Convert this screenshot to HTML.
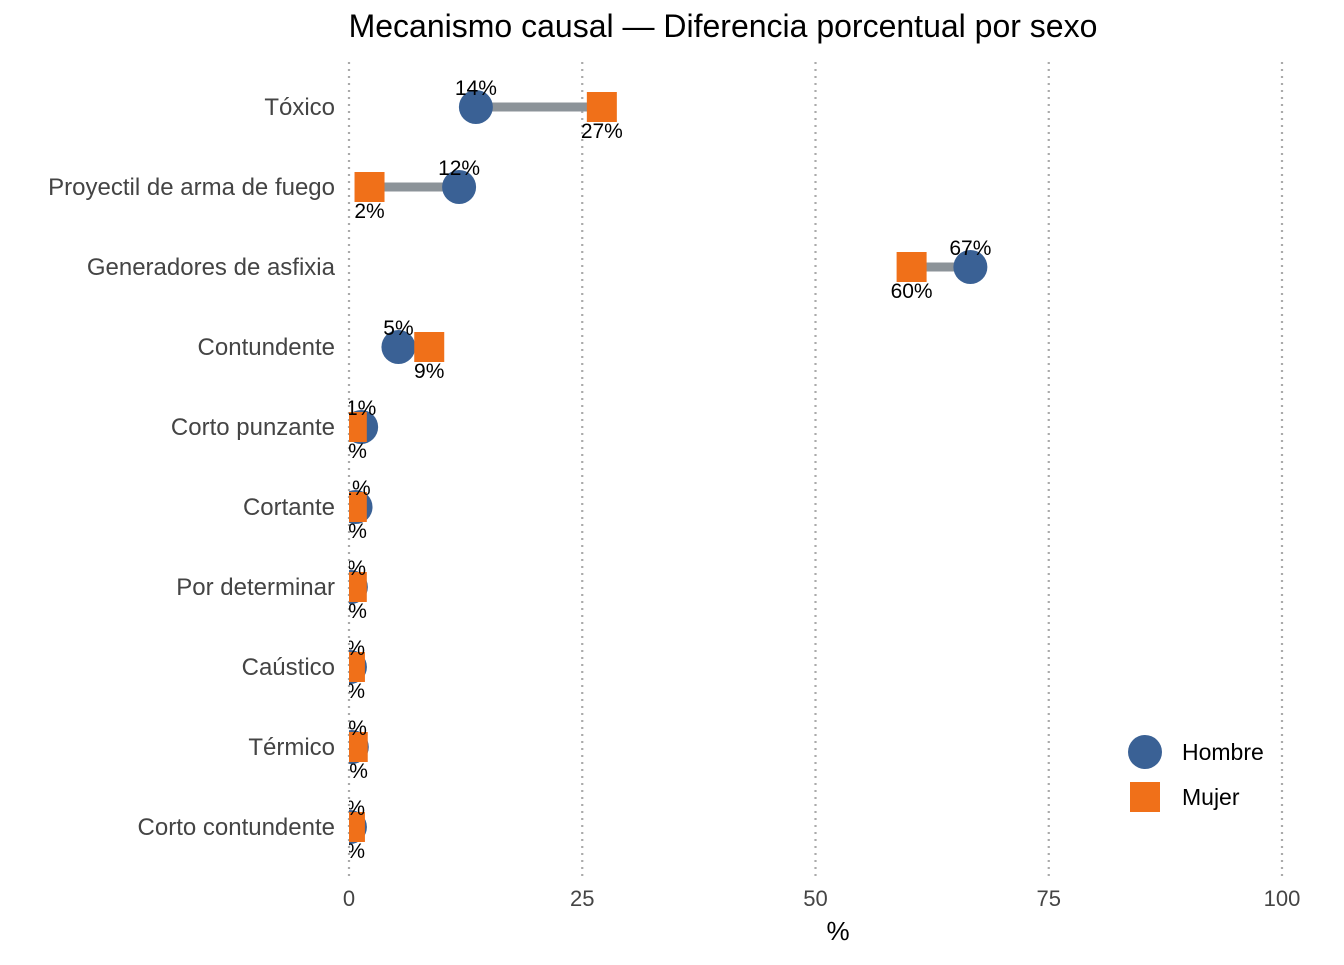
<!DOCTYPE html>
<html><head><meta charset="utf-8"><style>
body{margin:0;background:#fff;}
svg{font-family:"Liberation Sans",Arial,sans-serif;}
</style></head><body>
<svg id="c" width="1344" height="960">
<defs><clipPath id="clip"><rect x="349" y="55" width="980" height="830"/></clipPath></defs>
<text x="723" y="37" text-anchor="middle" font-size="32" fill="#000">Mecanismo causal — Diferencia porcentual por sexo</text>
<g id="grid"></g>
<g id="ylab"></g>
<g id="xt"></g>
<g id="marks" clip-path="url(#clip)"></g>
<text x="838" y="940" text-anchor="middle" font-size="26">%</text>
<g>
<circle cx="1145" cy="752" r="17" fill="#3a6195"/>
<text x="1182" y="760" font-size="23">Hombre</text>
<rect x="1130" y="782" width="30" height="30" fill="#f07019"/>
<text x="1182" y="805" font-size="23">Mujer</text>
</g>
</svg>
<script>
const categories=["Tóxico","Proyectil de arma de fuego","Generadores de asfixia","Contundente","Corto punzante","Cortante","Por determinar","Caústico","Térmico","Corto contundente"];
const hombre=[13.6,11.8,66.6,5.3,1.3,0.7,0.2,0.1,0.3,0.1];
const mujer=[27.1,2.2,60.3,8.6,0.3,0.3,0.3,0.1,0.4,0.1];
const hombreLbl=["14%","12%","67%","5%","1%","1%","0%","0%","0%","0%"];
const mujerLbl=["27%","2%","60%","9%","0%","0%","0%","0%","0%","0%"];
const xticks=[0,25,50,75,100];
const NS="http://www.w3.org/2000/svg";
const X=v=>349+v*9.33;
const Y=i=>107+i*80;
function mk(tag,attrs,parent,txt){const e=document.createElementNS(NS,tag);for(const k in attrs)e.setAttribute(k,attrs[k]);if(txt!==undefined)e.textContent=txt;document.getElementById(parent).appendChild(e);return e;}
xticks.forEach(t=>{
 let l=mk('line',{x1:X(t),x2:X(t),y1:62,y2:880,stroke:'#aaa','stroke-width':2.2,'stroke-dasharray':'2,5'},'grid');
 
 
 let tx=mk('text',{x:X(t),y:906,'text-anchor':'middle','font-size':22,fill:'#444'},'xt',String(t));
 
 
});
categories.forEach((c,i)=>{
 let t=mk('text',{x:335,y:Y(i)+8,'text-anchor':'end','font-size':24,fill:'#444'},'ylab',c);
 
 
 let s=mk('line',{x1:X(hombre[i]),x2:X(mujer[i]),y1:Y(i),y2:Y(i),stroke:'#8c9399','stroke-width':9},'marks');
 
 
 let ci=mk('circle',{cx:X(hombre[i]),cy:Y(i),r:17,fill:'#3a6195'},'marks');
 
 
 let r=mk('rect',{x:X(mujer[i])-15,y:Y(i)-15,width:30,height:30,fill:'#f07019'},'marks');
 
 
 let lh=mk('text',{x:X(hombre[i]),y:Y(i)-12,'text-anchor':'middle','font-size':21},'marks',hombreLbl[i]);
 
 
 let lm=mk('text',{x:X(mujer[i]),y:Y(i)+31,'text-anchor':'middle','font-size':21},'marks',mujerLbl[i]);
 
 
});
</script>
</body></html>
